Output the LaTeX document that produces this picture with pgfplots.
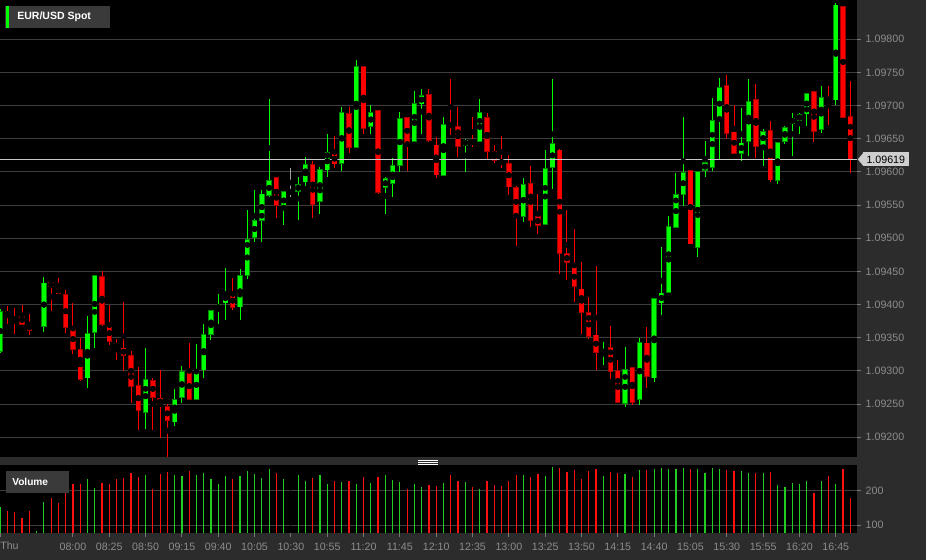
\documentclass[border=0pt]{standalone}
\usepackage{fontspec}
\setmainfont{Liberation Sans}
\usepackage{pgfplots}
\usepackage{pgfplotstable}
\pgfplotsset{compat=1.18}

\definecolor{cgreen}{HTML}{00FF00}
\definecolor{cgreenb}{HTML}{008A00}
\definecolor{cred}{HTML}{FF0000}
\definecolor{credb}{HTML}{A00000}
\definecolor{vgreen}{HTML}{22CC22}
\definecolor{vred}{HTML}{FF1010}
\definecolor{doji}{HTML}{A0A0A0}
\definecolor{gridc}{HTML}{3D3D3D}
\definecolor{stripc}{HTML}{2C2C2C}
\definecolor{labc}{HTML}{8C8C8C}
\definecolor{tickc}{HTML}{777777}
\definecolor{boxc}{HTML}{3A3A3A}
\definecolor{pricebox}{HTML}{CFCFCF}
\definecolor{priceline}{HTML}{C8C8C8}

% 5-minute EUR/USD candles: index, open, high, low, close, volume
\pgfplotstableread{
i o h l c v
0 1.09331 1.09393 1.09327 1.09391 154
5 1.09362 1.09369 1.09360 1.09367 82
6 1.09368 1.09441 1.09359 1.09433 168
12 1.09291 1.09384 1.09276 1.09358 235
13 1.09359 1.09444 1.09336 1.09444 209
20 1.09239 1.09334 1.09212 1.09288 247
24 1.09224 1.09274 1.09218 1.09258 247
25 1.09261 1.09307 1.09251 1.09300 244
27 1.09258 1.09340 1.09258 1.09302 247
28 1.09302 1.09372 1.09291 1.09355 252
29 1.09356 1.09392 1.09348 1.09392 235
30 1.09393 1.09416 1.09371 1.09400 220
31 1.09403 1.09456 1.09378 1.09418 244
33 1.09397 1.09453 1.09377 1.09444 244
34 1.09446 1.09542 1.09438 1.09499 258
35 1.09502 1.09573 1.09495 1.09527 250
36 1.09528 1.09573 1.09495 1.09567 238
37 1.09566 1.09710 1.09562 1.09588 264
39 1.09544 1.09572 1.09520 1.09570 235
41 1.09572 1.09594 1.09528 1.09582 247
42 1.09585 1.09623 1.09579 1.09611 230
44 1.09556 1.09607 1.09537 1.09604 247
45 1.09604 1.09658 1.09593 1.09630 220
47 1.09614 1.09699 1.09603 1.09690 226
49 1.09638 1.09770 1.09638 1.09760 220
51 1.09669 1.09702 1.09657 1.09690 223
53 1.09576 1.09593 1.09537 1.09589 247
54 1.09583 1.09622 1.09563 1.09610 232
55 1.09610 1.09691 1.09601 1.09681 226
57 1.09646 1.09723 1.09646 1.09703 220
58 1.09704 1.09726 1.09657 1.09717 212
61 1.09596 1.09684 1.09596 1.09672 223
64 1.09641 1.09650 1.09601 1.09648 226
66 1.09646 1.09711 1.09646 1.09690 206
72 1.09533 1.09592 1.09526 1.09582 247
75 1.09521 1.09634 1.09521 1.09605 244
76 1.09608 1.09740 1.09575 1.09644 270
83 1.09329 1.09344 1.09310 1.09332 244
86 1.09251 1.09338 1.09247 1.09302 250
88 1.09258 1.09350 1.09250 1.09343 261
90 1.09290 1.09409 1.09284 1.09409 264
91 1.09403 1.09488 1.09385 1.09418 267
92 1.09419 1.09533 1.09419 1.09518 264
93 1.09517 1.09599 1.09517 1.09567 264
94 1.09567 1.09684 1.09549 1.09600 267
96 1.09486 1.09600 1.09472 1.09600 264
97 1.09603 1.09649 1.09595 1.09614 252
98 1.09608 1.09711 1.09601 1.09678 267
99 1.09679 1.09743 1.09619 1.09728 264
102 1.09629 1.09698 1.09618 1.09644 258
103 1.09647 1.09740 1.09625 1.09707 252
105 1.09643 1.09666 1.09609 1.09662 252
107 1.09589 1.09646 1.09583 1.09646 218
108 1.09647 1.09671 1.09643 1.09668 212
109 1.09674 1.09691 1.09626 1.09682 223
110 1.09679 1.09690 1.09658 1.09687 220
111 1.09688 1.09719 1.09671 1.09719 229
113 1.09664 1.09730 1.09658 1.09712 229
115 1.09708 1.09856 1.09702 1.09851 220
}\upcandles

\pgfplotstableread{
i o h l c v
1 1.09390 1.09399 1.09371 1.09383 142
2 1.09381 1.09395 1.09356 1.09378 139
3 1.09383 1.09400 1.09370 1.09370 121
4 1.09372 1.09387 1.09356 1.09362 142
7 1.09433 1.09434 1.09392 1.09427 180
8 1.09427 1.09440 1.09417 1.09417 165
9 1.09416 1.09423 1.09358 1.09366 195
10 1.09365 1.09404 1.09327 1.09333 220
11 1.09332 1.09350 1.09285 1.09287 219
14 1.09443 1.09452 1.09368 1.09371 223
15 1.09370 1.09400 1.09339 1.09344 220
16 1.09342 1.09349 1.09317 1.09335 235
17 1.09335 1.09405 1.09301 1.09324 238
18 1.09324 1.09331 1.09253 1.09277 252
19 1.09278 1.09307 1.09212 1.09241 241
21 1.09287 1.09290 1.09212 1.09261 206
22 1.09260 1.09301 1.09199 1.09250 250
23 1.09248 1.09251 1.09172 1.09227 255
26 1.09299 1.09343 1.09258 1.09258 258
32 1.09417 1.09441 1.09394 1.09397 235
38 1.09592 1.09592 1.09531 1.09550 252
43 1.09611 1.09617 1.09531 1.09552 238
46 1.09630 1.09654 1.09606 1.09614 229
48 1.09688 1.09699 1.09630 1.09637 229
50 1.09759 1.09759 1.09657 1.09666 241
52 1.09694 1.09694 1.09566 1.09570 241
56 1.09683 1.09683 1.09601 1.09643 206
59 1.09718 1.09725 1.09645 1.09648 218
60 1.09641 1.09654 1.09592 1.09596 215
62 1.09674 1.09742 1.09657 1.09670 247
63 1.09670 1.09699 1.09624 1.09640 229
65 1.09647 1.09684 1.09639 1.09644 212
67 1.09682 1.09690 1.09621 1.09631 229
68 1.09631 1.09640 1.09614 1.09618 218
69 1.09617 1.09655 1.09606 1.09614 215
70 1.09613 1.09625 1.09565 1.09578 229
71 1.09578 1.09580 1.09490 1.09534 247
73 1.09584 1.09610 1.09517 1.09529 241
74 1.09534 1.09568 1.09508 1.09521 250
77 1.09634 1.09634 1.09446 1.09478 267
78 1.09477 1.09542 1.09437 1.09464 255
79 1.09458 1.09515 1.09404 1.09429 261
80 1.09424 1.09465 1.09356 1.09389 235
81 1.09390 1.09412 1.09348 1.09353 258
82 1.09355 1.09458 1.09302 1.09329 264
84 1.09335 1.09368 1.09289 1.09299 255
85 1.09301 1.09317 1.09253 1.09253 252
87 1.09306 1.09306 1.09250 1.09254 241
89 1.09343 1.09367 1.09275 1.09293 261
95 1.09603 1.09603 1.09492 1.09492 264
100 1.09731 1.09748 1.09651 1.09659 261
101 1.09661 1.09702 1.09629 1.09629 258
104 1.09711 1.09733 1.09622 1.09640 252
106 1.09663 1.09678 1.09587 1.09589 255
112 1.09722 1.09722 1.09647 1.09662 194
114 1.09711 1.09730 1.09671 1.09708 244
116 1.09850 1.09850 1.09683 1.09683 264
117 1.09685 1.09737 1.09599 1.09619 180
}\downcandles

\pgfplotstableread{
i o h l c v
40 1.09571 1.09607 1.09562 1.09571 235
}\flatcandles

% wick, dark body outline, bright body
\newcommand{\candleset}[3]{%
  \addplot[only marks, mark=none, forget plot,
    error bars/.cd, y dir=both, y explicit, error mark=none,
    error bar style={draw=#2, line width=0.75pt}]
    table[x=i, y expr={(\thisrow{h}+\thisrow{l})/2},
      y error expr={(\thisrow{h}-\thisrow{l})/2}] {#1};
  \addplot[only marks, mark=none, forget plot,
    error bars/.cd, y dir=both, y explicit, error mark=none,
    error bar style={draw=#3, line width=4pt}]
    table[x=i, y expr={(\thisrow{o}+\thisrow{c})/2},
      y error expr={abs(\thisrow{o}-\thisrow{c})/2+0.0000075}] {#1};
  \addplot[only marks, mark=none, forget plot,
    error bars/.cd, y dir=both, y explicit, error mark=none,
    error bar style={draw=#2, line width=3.1pt}]
    table[x=i, y expr={(\thisrow{o}+\thisrow{c})/2},
      y error expr={max(abs(\thisrow{o}-\thisrow{c})/2-0.000005,0.000002)}] {#1};
}

\pgfplotsset{
  panel/.style={
    scale only axis, width=642.75pt,
    xmin=-0.04, xmax=117.92,
    axis background/.style={fill=black},
    axis x line*=bottom, axis y line*=right,
    axis line style={draw=none},
    tick align=outside,
    tick style={color=tickc, line width=0.75pt},
    major tick length=3pt,
    ymajorgrids, major grid style={color=gridc, line width=0.75pt},
    ticklabel style={font=\fontsize{8}{9}\selectfont, text=labc},
    /pgf/number format/assume math mode=true,
  },
}

\begin{document}
\begin{tikzpicture}
\useasboundingbox (0,0) rectangle (694.5pt,420pt);
\fill[stripc] (0,0) rectangle (694.5pt,420pt);

% price panel
\begin{axis}[panel,
  at={(0pt,420pt)}, anchor=north west, height=342.5pt,
  ymin=1.0917075, ymax=1.0985925,
  xtick=\empty,
  ytick={1.092,1.0925,1.093,1.0935,1.094,1.0945,1.095,1.0955,1.096,1.0965,1.097,1.0975,1.098},
  scaled y ticks=false,
  yticklabel style={/pgf/number format/.cd, fixed, fixed zerofill, precision=5},
]
\candleset{\upcandles}{cgreen}{cgreenb}
\candleset{\downcandles}{cred}{credb}
\candleset{\flatcandles}{doji}{doji}
\addplot[color=priceline, line width=0.75pt] coordinates {(-0.04,1.09619) (117.92,1.09619)};
\coordinate (cp) at (axis cs:117.92,1.09619);
\end{axis}

% current price tag
\fill[pricebox] ([xshift=0.6pt]cp) -- ([xshift=4.4pt,yshift=4.5pt]cp) -- ([xshift=4.4pt,yshift=-4.5pt]cp) -- cycle;
\node[fill=pricebox, anchor=west, inner sep=0pt, minimum width=34.2pt, minimum height=10.5pt,
  font=\fontsize{8}{9}\selectfont, text=black] at ([xshift=4.3pt]cp) {1.09619};

% volume panel
\begin{axis}[panel,
  at={(0pt,71.25pt)}, anchor=north west, height=51pt,
  ymin=77.6, ymax=275.7,
  ytick={100,200},
  xtick={0,10,15,20,25,30,35,40,45,50,55,60,65,70,75,80,85,90,95,100,105,110,115},
  xticklabels={,08:00,08:25,08:50,09:15,09:40,10:05,10:30,10:55,11:20,11:45,12:10,12:35,13:00,13:25,13:50,14:15,14:40,15:05,15:30,15:55,16:20,16:45},
  xticklabel style={yshift=-1pt},
]
\addplot[ycomb, draw=vgreen, line width=0.9pt] table[x=i, y=v] {\upcandles};
\addplot[ycomb, draw=vred, line width=0.9pt] table[x=i, y=v] {\downcandles};
\addplot[ycomb, draw=black, line width=0.9pt] table[x=i, y=v] {\flatcandles};
\end{axis}

% labels and panel furniture, in pixel units
\begin{scope}[x=0.75pt, y=-0.75pt, shift={(0pt,420pt)}]
  \fill[stripc] (0,456.7) rectangle (857,465);
  \foreach \yy in {460,462,464} \draw[white, line width=0.6pt] (418,\yy) -- (438,\yy);
  \fill[boxc] (5,6) rectangle (110,28);
  \fill[cgreen] (5.7,6) rectangle (8.7,28);
  \node[anchor=west, text=white, inner sep=0pt, font=\bfseries\fontsize{7.9}{9}\selectfont] at (17,17) {EUR/USD Spot};
  \fill[boxc] (6,471) rectangle (69,493);
  \node[anchor=west, text=white, inner sep=0pt, font=\bfseries\fontsize{7.6}{9}\selectfont] at (12,482) {Volume};
  \node[anchor=west, text=labc, inner sep=0pt, font=\fontsize{8}{9}\selectfont] at (0,546) {Thu};
\end{scope}
\end{tikzpicture}
\end{document}
